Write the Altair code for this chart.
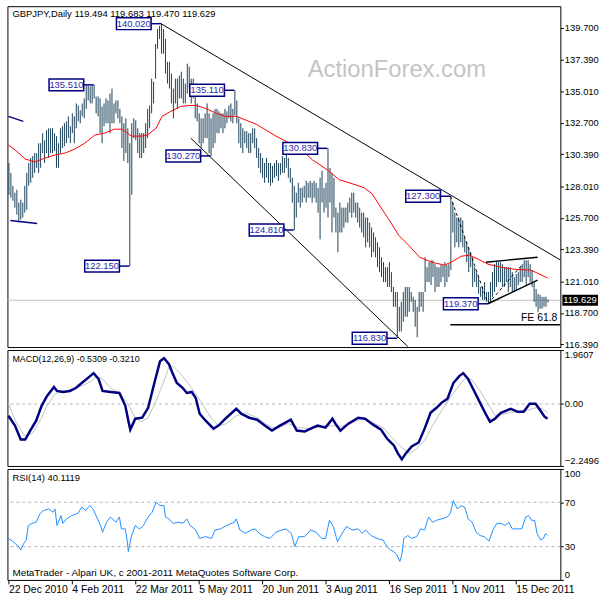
import altair as alt
import pandas as pd

FONT = "Liberation Sans"
BAR = "#1b4259"
NAVY = "#000080"
ANNO_TXT = "#2b2ba6"

# ---------------- price bars (daily high / low) ----------------
high = [
    129.75, 129.02, 128.07, 127.56, 127.78, 126.83, 127.05, 126.83, 128.07, 129.02,
    129.75, 130.12, 130.26, 130.48, 130.48, 131.21, 131.21, 131.95, 131.43, 132.17,
    132.31, 132.31, 132.31, 131.95, 131.73, 131.21, 132.31, 132.46, 132.68, 132.82,
    133.19, 132.46, 133.41, 133.19, 134.14, 133.99, 133.63, 134.14, 134.51, 135.46,
    135.46, 135.40, 135.46, 135.51, 134.65, 134.65, 134.51, 133.92, 134.14, 134.51,
    134.36, 134.87, 135.24, 134.14, 134.36, 134.36, 133.74, 133.19, 132.68, 133.04,
    132.31, 131.21, 132.68, 133.04, 132.90, 132.31, 131.95, 131.95, 131.95, 132.68,
    133.74, 133.99, 135.97, 135.75, 138.53, 139.63, 139.85, 140.02, 139.63, 138.90,
    137.21, 137.21, 136.34, 135.24, 135.97, 135.97, 136.19, 136.48, 135.97, 135.60,
    137.07, 136.85, 135.97, 135.97, 134.87, 134.14, 133.41, 133.04, 133.04, 133.41,
    134.14, 133.41, 133.04, 133.41, 133.74, 133.74, 133.56, 133.41, 133.41, 133.74,
    133.56, 133.99, 134.14, 133.74, 135.11, 134.36, 133.04, 132.68, 132.31, 132.10,
    132.10, 131.95, 131.95, 132.31, 132.31, 131.58, 130.85, 130.48, 130.12, 129.75,
    130.12, 129.75, 129.75, 129.53, 129.75, 129.97, 129.75, 129.75, 130.26, 130.12,
    130.34, 130.12, 129.39, 128.66, 128.07, 127.56, 128.29, 127.92, 127.92, 128.07,
    128.44, 128.29, 128.44, 128.29, 128.44, 128.29, 127.92, 128.66, 129.17, 127.92,
    128.29, 130.83, 129.39, 129.02, 128.66, 126.46, 126.09, 126.83, 126.46, 126.46,
    126.46, 126.83, 127.19, 127.56, 127.56, 126.83, 126.83, 126.46, 126.09, 126.09,
    125.73, 125.73, 125.36, 124.99, 124.63, 124.27, 123.90, 123.53, 122.80, 122.44,
    122.07, 122.07, 122.44, 121.70, 120.61, 120.24, 120.24, 119.15, 119.51, 120.24,
    120.61, 120.61, 120.61, 120.24, 119.88, 119.66, 119.15, 120.24, 120.24, 120.24,
    122.80, 122.07, 122.44, 122.58, 122.58, 122.29, 122.07, 122.07, 122.22, 122.22,
    122.44, 122.22, 122.29, 127.30, 126.83, 126.09, 125.73, 125.73, 125.73, 125.51,
    124.27, 123.90, 123.53, 123.17, 122.80, 122.07, 121.70, 121.34, 120.61, 120.61,
    120.97, 120.24, 120.24, 120.97, 121.70, 122.29, 122.44, 122.44, 122.44, 122.29,
    122.07, 122.07, 122.07, 122.07, 121.70, 121.34, 121.56, 121.70, 122.07, 122.29,
    122.58, 122.58, 122.58, 122.29, 121.85, 120.97, 120.46, 120.10, 120.02, 119.88,
    119.88, 119.88, 119.683,
]
low = [
    127.41, 127.19, 126.97, 126.46, 125.95, 125.36, 125.58, 125.73, 126.09, 126.31,
    128.07, 128.29, 128.66, 129.02, 129.39, 129.02, 129.39, 130.48, 129.75, 130.48,
    130.12, 130.48, 130.48, 130.63, 129.39, 129.39, 130.48, 130.85, 130.99, 131.21,
    131.58, 131.21, 131.95, 131.21, 132.31, 132.82, 132.68, 133.19, 133.04, 133.74,
    134.36, 134.14, 134.14, 134.51, 133.41, 133.19, 131.95, 131.21, 132.46, 132.68,
    132.68, 131.95, 132.68, 132.68, 133.41, 133.04, 132.68, 130.85, 129.90, 130.48,
    129.75, 122.15, 127.41, 131.58, 131.43, 130.48, 130.12, 130.12, 130.48, 130.85,
    131.58, 132.31, 133.41, 134.14, 135.97, 138.17, 138.90, 137.80, 137.80, 136.34,
    135.60, 135.24, 134.14, 133.04, 134.14, 133.74, 134.51, 134.51, 134.14, 134.14,
    134.87, 135.24, 134.14, 134.51, 133.04, 132.82, 131.21, 130.85, 131.21, 131.58,
    131.58, 130.48, 130.27, 130.85, 131.21, 131.95, 131.95, 132.31, 131.95, 132.31,
    132.68, 133.04, 132.82, 132.68, 133.26, 132.68, 131.21, 130.85, 130.48, 131.21,
    130.85, 130.48, 130.48, 131.21, 130.85, 130.12, 129.39, 129.02, 128.66, 128.29,
    128.66, 128.29, 128.07, 128.29, 128.66, 128.80, 128.44, 128.87, 129.02, 129.02,
    129.39, 128.66, 128.29, 126.83, 124.81, 125.73, 126.83, 126.46, 126.83, 127.19,
    126.83, 127.19, 127.19, 126.83, 127.19, 126.83, 126.09, 124.12, 126.83, 126.09,
    126.46, 125.73, 126.83, 124.63, 125.73, 124.63, 123.17, 124.63, 124.63, 124.99,
    125.36, 125.36, 126.09, 125.73, 126.09, 125.73, 125.36, 124.99, 124.63, 124.27,
    123.53, 123.90, 123.53, 122.80, 123.17, 122.80, 122.07, 121.70, 121.34, 120.97,
    120.97, 120.61, 120.61, 120.24, 119.15, 119.15, 116.83, 117.32, 117.32, 118.05,
    118.41, 118.41, 118.78, 119.51, 118.78, 117.68, 116.90, 118.78, 119.15, 118.78,
    120.24, 120.97, 120.97, 120.75, 121.34, 120.24, 120.61, 120.61, 120.97, 121.34,
    120.61, 120.97, 121.34, 121.85, 124.63, 123.53, 123.90, 123.53, 123.90, 123.53,
    123.17, 122.44, 121.70, 122.07, 120.61, 120.97, 120.61, 120.10, 119.88, 119.66,
    119.66, 119.51, 119.37, 119.51, 119.88, 120.24, 120.61, 120.97, 120.97, 120.61,
    120.61, 120.97, 120.24, 120.61, 120.24, 120.24, 120.39, 120.75, 120.97, 120.97,
    121.34, 120.75, 121.34, 120.97, 120.61, 119.51, 119.15, 118.78, 119.00, 119.00,
    119.15, 119.15, 119.47,
]
last_open, last_high, last_low, last_close = 119.494, 119.683, 119.470, 119.629

# ---------------- moving average (red) ----------------
ma_i = [0, 3.5, 8.5, 13.5, 18.5, 23.5, 28.5, 33.5, 38.5, 43.5, 48.5, 53.5, 57.5, 62, 67,
        70, 74.5, 77.5, 82, 87, 91, 95, 100, 105, 109.5, 115, 120, 125, 130, 135,
        142, 148.5, 153.5, 161, 167, 173.5, 179.5, 183.5, 187, 192, 197, 202, 207.5, 213.5, 220,
        223.5, 228.5, 232.5, 237, 242, 248.5, 255, 263.5, 267, 272]
ma_v = [131.07, 130.70, 130.04, 129.83, 130.12, 130.34, 130.48, 130.78, 131.21, 131.80,
        131.95, 132.24, 132.24, 131.73, 131.73, 131.80, 132.31, 133.19, 133.56, 133.92,
        133.99, 133.99, 133.74, 133.41, 133.19, 133.19, 132.90, 132.61, 132.17, 131.73,
        131.21, 130.63, 129.97, 129.24, 128.51, 128.22, 127.92, 127.48, 126.68, 125.58,
        124.41, 123.68, 122.80, 122.44, 122.22, 122.44, 122.88, 122.95, 122.66, 122.29,
        122.07, 121.92, 121.85, 121.63, 121.27]

# ---------------- MACD ----------------
macd_i = [0, 3.3, 6.2, 8.5, 11, 14, 16.75, 19.5, 23, 24.5, 27.5, 31, 34, 37, 40, 43, 45.5, 47.5,
          51.5, 56, 59, 60.5, 61.5, 64, 67.5, 70.5, 73.5, 76.5, 78.5, 81, 83, 85, 88, 90, 92.5,
          94.5, 96.5, 99.5, 103.5, 106, 110, 115, 117.5, 121.5, 125.5, 129.5, 133, 137, 142.5,
          145.5, 149.5, 152.5, 156, 160, 163.5, 165, 167.5, 171.5, 176.5, 180, 184, 188, 191,
          194.5, 196.5, 198.5, 200.5, 203.5, 207, 210, 213, 216, 218.5, 221.5, 224.5, 227.5,
          229.5, 232, 235, 238, 240.5, 243, 245.5, 248.5, 253.5, 257, 260, 263, 266, 268.5,
          270.5, 272]
macd_v = [-0.425, -0.785, -1.289, -1.289, -0.965, -0.605, -0.065, 0.294, 0.618, 0.474,
          0.438, 0.474, 0.582, 0.762, 0.942, 1.122, 0.906, 0.474, 0.438, 0.402,
          -0.065, -0.605, -0.929, -0.533, -0.497, -0.137, 0.726, 1.554, 1.662, 1.446,
          1.086, 0.762, 0.582, 0.402, 0.438, 0.222, -0.353, -0.605, -0.893, -0.785,
          -0.497, -0.173, -0.353, -0.497, -0.569, -0.785, -0.965, -0.785, -0.569, -0.965,
          -1.001, -0.893, -0.785, -0.857, -0.533, -0.713, -0.965, -0.713, -0.497, -0.533,
          -0.749, -0.929, -1.253, -1.505, -1.793, -2.009, -1.793, -1.541, -1.397, -0.893,
          -0.317, -0.137, 0.043, 0.186, 0.762, 1.014, 1.122, 0.906, 0.474, 0.043,
          -0.317, -0.641, -0.533, -0.317, -0.173, -0.281, -0.281, 0.007, 0.007, -0.245,
          -0.461, -0.531]
sig_i = [0, 3.5, 8, 12, 16, 19.5, 23.5, 27.5, 32, 37, 42, 44.5, 47.5, 51.5, 56, 60, 64, 67,
         70.5, 74.5, 78.5, 81, 83, 87, 91, 94.5, 98.5, 102.5, 106, 110, 115, 119.5, 125.5,
         131, 135, 141, 146.5, 152.5, 158, 164, 167.5, 172.5, 178.5, 183, 189, 193.5, 198.5,
         202.5, 206, 210, 214, 218.5, 223.5, 228.5, 231, 234, 238, 242, 245.5, 250.5, 256,
         261, 266, 269.5, 272]
sig_v = [0.007, -0.605, -1.145, -1.073, -0.605, -0.065, 0.366, 0.474, 0.510, 0.654,
         0.834, 1.014, 0.906, 0.582, 0.402, 0.043, -0.497, -0.641, -0.497, 0.115,
         0.834, 1.338, 1.374, 1.086, 0.726, 0.366, -0.065, -0.533, -0.785, -0.713,
         -0.425, -0.317, -0.497, -0.785, -0.893, -0.713, -0.857, -0.893, -0.821, -0.785,
         -0.821, -0.713, -0.533, -0.641, -0.857, -1.217, -1.577, -1.793, -1.613, -1.325,
         -0.785, -0.245, 0.294, 0.762, 0.978, 0.870, 0.474, 0.007, -0.425, -0.353,
         -0.281, -0.245, -0.137, -0.173, -0.321]

# ---------------- RSI ----------------
rsi_i = [0, 2.35, 5.25, 6.2, 7.75, 9, 10, 12, 14, 16,
         17.75, 20.5, 22.5, 23.5, 24.5, 26.5, 27.5, 29.25, 32, 35,
         37, 39, 41, 42.75, 44.5, 46.5, 47.5, 49.5, 51.5, 54.25,
         56, 57, 59, 60, 60.5, 62, 64, 66, 67.75, 70.5,
         72.5, 74.5, 76.5, 78.5, 79.25, 81, 83, 86, 88, 90,
         91.75, 94.5, 96.5, 99.5, 102.5, 104.25, 107, 110, 114, 115,
         116.75, 119.5, 122.5, 124.5, 126.5, 129.25, 132, 135, 138, 140,
         142.75, 144.5, 146.5, 149.5, 152.5, 155.25, 158, 160, 162, 164,
         166, 167.75, 170.5, 173.5, 176.5, 178.5, 180.25, 183, 186, 189,
         191, 192.75, 194.5, 196, 197.5, 198.5, 199.5, 201.5, 203.5, 206,
         208, 210, 212, 214, 216, 218.5, 221.5, 223, 224.5, 226.5,
         228.5, 230.25, 232, 234, 236, 238, 240, 242.5, 244.5, 246.5,
         248.5, 250.5, 252.5, 254.25, 257, 259, 261, 262.5, 264, 265.5,
         266.75, 268.5, 270, 271, 272]
rsi_v = [37.4, 34.5, 30, 27, 33, 36, 49, 51, 52, 60,
         62.6, 64, 61, 64, 49, 58, 51, 55, 58, 60,
         65.6, 62.6, 67, 64, 56.7, 49, 43, 52, 56.7, 52,
         56.7, 46, 46, 34.5, 25.6, 39, 49, 46, 48, 56.7,
         61, 70, 67, 67, 56.7, 55, 51, 52, 51, 55,
         49, 45, 37.4, 39, 37.4, 45, 46, 49, 52, 55,
         45, 42, 45, 46, 42, 39, 37.4, 43, 45, 46,
         42, 30, 39, 39, 45, 43, 37.4, 37.4, 53.7, 48,
         34.5, 40, 48, 45, 46, 42, 45, 40, 37.4, 36,
         30, 27, 25.6, 22.6, 16.7, 22.6, 37.4, 40, 37.4, 39,
         46, 45, 56.7, 52, 53.7, 55, 56.7, 60, 71.5, 64,
         67, 65.6, 55, 52, 43, 40, 39, 35, 45, 51,
         51, 49, 52, 46, 46, 46, 56.7, 58, 53.7, 53.7,
         42, 36, 37.4, 42, 40.11]

# ---------------- annotations / drawn objects ----------------
anno_i = [77, 43, 114, 102, 161, 61, 144, 223, 196, 242]
anno_p = [140.02, 135.51, 135.11, 130.27, 130.83, 122.15, 124.81, 127.30, 116.83, 119.37]
anno_t = ["140.020", "135.510", "135.110", "130.270", "130.830",
          "122.150", "124.810", "127.300", "116.830", "119.370"]

thin_seg = ["up", "up", "ch", "ch"]
thin_i = [77, 278.5, 92, 201.5]
thin_p = [140.02, 122.60, 131.58, 116.22]
thick_seg = ["fe", "fe", "t1", "t1", "t2", "t2"]
thick_i = [223, 278.5, 241, 267, 242, 267]
thick_p = [117.83, 117.83, 122.44, 122.80, 119.37, 121.12]
dash_seg = ["d1", "d1", "d2", "d2"]
dash_i = [223, 242, 242, 259.5]
dash_p = [127.30, 119.37, 119.37, 122.29]
navy_seg = ["n1", "n1", "n2", "n2"]
navy_i = [0, 7.5, 1, 14.5]
navy_p = [133.19, 132.82, 125.51, 125.29]
fe_level, fe_text = 117.83, "FE 61.8"

price_ticks = [139.7, 137.39, 135.01, 132.7, 130.39, 128.01, 125.7, 123.39, 121.01, 118.7, 116.39]
date_idx = [0, 32, 64, 96, 128, 160, 192, 224, 256]
date_lbl = ["22 Dec 2010", "4 Feb 2011", "22 Mar 2011", "5 May 2011", "20 Jun 2011",
            "3 Aug 2011", "16 Sep 2011", "1 Nov 2011", "15 Dec 2011"]

title_txt = "GBPJPY,Daily  %.3f %.3f %.3f %.3f" % (last_open, last_high, last_low, last_close)
macd_txt = "MACD(12,26,9) -0.5309 -0.3210"
rsi_txt = "RSI(14) 40.1119"
foot_txt = "MetaTrader - Alpari UK, c 2001-2011 MetaQuotes Software Corp."
wm_txt = "ActionForex.com"

# ---------------- frames ----------------
bars_df = pd.DataFrame({"i": list(range(len(high))), "high": high, "low": low})
ma_df = pd.DataFrame({"i": ma_i, "p": ma_v})
macd_df = pd.DataFrame({"i": macd_i, "v": macd_v})
sig_df = pd.DataFrame({"i": sig_i, "v": sig_v})
rsi_df = pd.DataFrame({"i": rsi_i, "v": rsi_v})
anno_df = pd.DataFrame({"i": anno_i, "p": anno_p, "t": anno_t})
thin_df = pd.DataFrame({"seg": thin_seg, "i": thin_i, "p": thin_p})
thick_df = pd.DataFrame({"seg": thick_seg, "i": thick_i, "p": thick_p})
dash_df = pd.DataFrame({"seg": dash_seg, "i": dash_i, "p": dash_p})
navy_df = pd.DataFrame({"seg": navy_seg, "i": navy_i, "p": navy_p})
fe_df = pd.DataFrame({"i": [278.5], "p": [fe_level], "t": [fe_text]})
cp_df = pd.DataFrame({"p": [last_close], "t": ["%.3f" % last_close]})

W = 558
XD = [-0.5, 278.5]

label_expr = " : ".join(
    "datum.value == %d ? '%s'" % (v, s) for v, s in zip(date_idx, date_lbl)
) + " : ''"
date_axis = alt.Axis(values=date_idx, labelExpr=label_expr, labelAlign="left", labelBaseline="top",
                     labelPadding=1, tickSize=4, tickColor="black", domain=False, grid=False,
                     labelFont=FONT, labelFontSize=10.5, labelColor="black", title=None,
                     labelFlush=False, labelOverlap=False, labelBound=False)


def xq(field="i", axis=None):
    return alt.X(f"{field}:Q", scale=alt.Scale(domain=XD, nice=False, zero=False), axis=axis)


p_scale = alt.Scale(domain=[116.18, 141.31], nice=False, zero=False)
p_axis = alt.Axis(orient="right", values=price_ticks, format=".3f", tickSize=3, tickColor="black",
                  labelPadding=1, labelFont=FONT, labelFontSize=9.5, labelColor="black",
                  domain=False, grid=False, title=None, labelFlush=False, labelOverlap=False)


def yp(field):
    return alt.Y(f"{field}:Q", scale=p_scale, axis=p_axis)


def txt(text, x, y, size=9.5, color="black", align="left"):
    return alt.Chart(pd.DataFrame({"t": [text]})).mark_text(
        align=align, baseline="middle", font=FONT, fontSize=size, color=color
    ).encode(x=alt.value(x), y=alt.value(y), text="t:N")


# ---------------- price panel ----------------
watermark = txt(wm_txt, 393, 64, size=24, color="#c4c4c4", align="center")
cp_rule = alt.Chart(cp_df).mark_rule(color="#c0c0c0", strokeWidth=1).encode(y=yp("p"))
bars = alt.Chart(bars_df).mark_rule(color=BAR, strokeWidth=1, xOffset=0.5).encode(
    x=xq(), y=yp("low"), y2=alt.Y2("high"))
ma = alt.Chart(ma_df).mark_line(color="#ff0000", strokeWidth=1).encode(x=xq(), y=yp("p"))
thin = alt.Chart(thin_df).mark_line(color="black", strokeWidth=1, clip=True).encode(
    x=xq(), y=yp("p"), detail="seg:N")
thick = alt.Chart(thick_df).mark_line(color="black", strokeWidth=1.5, clip=True).encode(
    x=xq(), y=yp("p"), detail="seg:N")
dashed = alt.Chart(dash_df).mark_line(color="black", strokeWidth=1, strokeDash=[3, 3], clip=True).encode(
    x=xq(), y=yp("p"), detail="seg:N")
navy = alt.Chart(navy_df).mark_line(color=NAVY, strokeWidth=1.5, clip=True).encode(
    x=xq(), y=yp("p"), detail="seg:N")
conn = alt.Chart(anno_df).mark_rule(color=NAVY, strokeWidth=1.5, xOffset=-10).encode(
    x=xq(), x2=alt.X2("i"), y=yp("p"))
box = alt.Chart(anno_df).mark_rect(fill="white", stroke=NAVY, strokeWidth=1.5,
                                   xOffset=-45, x2Offset=-10, yOffset=-6, y2Offset=6).encode(
    x=xq(), x2=alt.X2("i"), y=yp("p"), y2=alt.Y2("p"))
anno_text = alt.Chart(anno_df).mark_text(color=ANNO_TXT, font=FONT, fontSize=9.5, dx=-27.5,
                                         align="center", baseline="middle").encode(
    x=xq(), y=yp("p"), text="t:N")
fe_label = alt.Chart(fe_df).mark_text(color="black", font=FONT, fontSize=10.5, dx=-3, dy=-2,
                                      align="right", baseline="bottom").encode(
    x=xq(), y=yp("p"), text="t:N")
title = txt(title_txt, 5, 8)
cp_box = alt.Chart(cp_df).mark_rect(color="black", yOffset=-5.5, y2Offset=5.5).encode(
    x=alt.value(560), x2=alt.value(596), y=yp("p"), y2=alt.Y2("p"))
cp_text = alt.Chart(cp_df).mark_text(color="white", font=FONT, fontSize=9.5, align="left",
                                     baseline="middle").encode(
    x=alt.value(561), y=yp("p"), text="t:N")

price = alt.layer(watermark, cp_rule, bars, ma, thin, thick, dashed, navy, conn, box, anno_text,
                  fe_label, title, cp_box, cp_text).properties(width=W, height=344)

# ---------------- MACD panel ----------------
m_scale = alt.Scale(domain=[-2.2496, 1.9607], nice=False, zero=False)
m_axis = alt.Axis(orient="right", values=[1.9607, 0, -2.2496],
                  labelExpr="datum.value == 0 ? '0.00' : format(datum.value, '.4f')",
                  labelBaseline={"condition": [{"test": "datum.value > 1", "value": "top"},
                                               {"test": "datum.value < -1", "value": "bottom"}],
                                 "value": "middle"},
                  tickSize=3, tickColor="black", labelPadding=1, labelFont=FONT, labelFontSize=9.5,
                  labelColor="black", domain=False, grid=False, title=None,
                  labelFlush=False, labelOverlap=False)


def ym(field):
    return alt.Y(f"{field}:Q", scale=m_scale, axis=m_axis)


zero_rule = alt.Chart(pd.DataFrame({"v": [0.0]})).mark_rule(
    color="#b4b4b4", strokeDash=[3, 3]).encode(y=ym("v"))
sig_line = alt.Chart(sig_df).mark_line(color="#c0c0c0", strokeWidth=1).encode(x=xq(), y=ym("v"))
macd_line = alt.Chart(macd_df).mark_line(color=NAVY, strokeWidth=2.5).encode(x=xq(), y=ym("v"))
macd_label = txt(macd_txt, 5, 9.5, size=9)
macd = alt.layer(zero_rule, sig_line, macd_line, macd_label).properties(width=W, height=117)

# ---------------- RSI panel ----------------
r_scale = alt.Scale(domain=[0, 100], nice=False, zero=False)
r_axis = alt.Axis(orient="right", values=[100, 70, 30, 0], format="d",
                  labelBaseline={"condition": [{"test": "datum.value == 100", "value": "top"},
                                               {"test": "datum.value == 0", "value": "bottom"}],
                                 "value": "middle"},
                  tickSize=3, tickColor="black", labelPadding=1, labelFont=FONT, labelFontSize=9.5,
                  labelColor="black", domain=False, grid=False, title=None,
                  labelFlush=False, labelOverlap=False)


def yr(field):
    return alt.Y(f"{field}:Q", scale=r_scale, axis=r_axis)


levels = alt.Chart(pd.DataFrame({"v": [70, 30]})).mark_rule(
    color="#b4b4b4", strokeDash=[3, 3]).encode(y=yr("v"))
rsi_line = alt.Chart(rsi_df).mark_line(color="#1e90ff", strokeWidth=1).encode(
    x=xq(axis=date_axis), y=yr("v"))
rsi_label = txt(rsi_txt, 5, 9)
foot = txt(foot_txt, 5, 105, size=10)
rsi = alt.layer(levels, rsi_line, rsi_label, foot).properties(width=W, height=112)

chart = alt.vconcat(price, macd, rsi, spacing=3, bounds="flush").properties(
    padding={"left": 2.5, "top": 2.5, "right": 0, "bottom": 0},
    background="white",
).configure_view(stroke="black", strokeWidth=1)

chart.save("out.html", embed_options={"renderer": "svg", "actions": False})
